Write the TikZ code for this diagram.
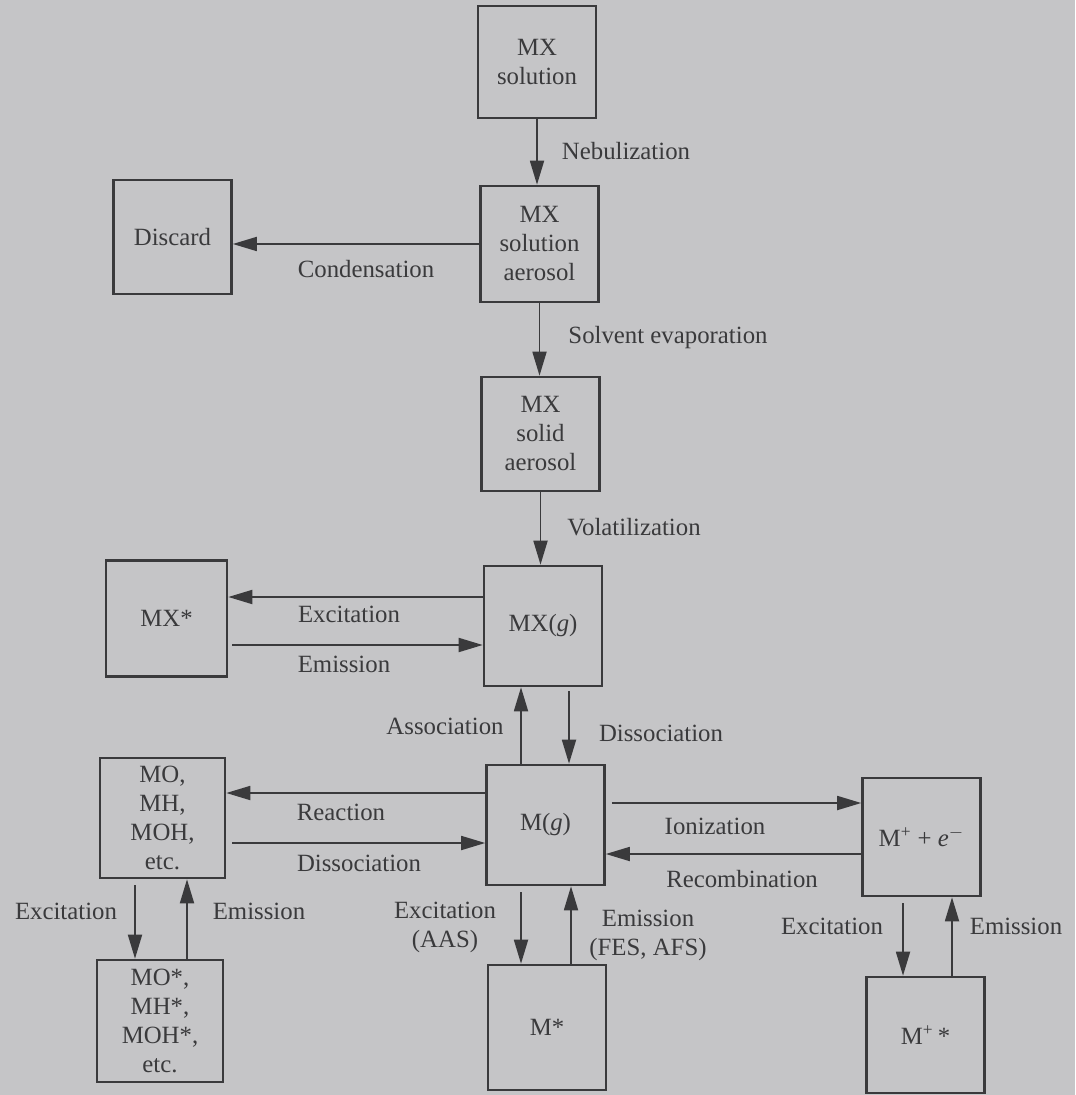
\documentclass[tikz,border=0pt]{standalone}
\usepackage{fontspec}
\setmainfont{Liberation Serif}
\usetikzlibrary{arrows.meta}
\definecolor{paper}{RGB}{197,197,199}
\definecolor{ink}{RGB}{58,58,60}

\begin{document}
\begin{tikzpicture}[x=0.5pt,y=-0.5pt,>={Triangle[length=12pt,width=7pt]},
    font=\fontsize{12.4}{14.5}\selectfont]
  \tikzstyle{box}=[draw=ink,line width=1.3pt,text=ink,align=center,minimum width=59pt,minimum height=58pt,inner sep=1pt]
  \tikzstyle{lbl}=[text=ink,align=center,inner sep=1pt]
  \tikzstyle{flow}=[draw=ink,line width=0.9pt,->]
  \fill[paper] (0,0) rectangle (1075,1095);
  % boxes
  \node[box,minimum height=56pt] (MX_sol) at (537,62) {MX\\solution};
  \node[box] (MX_aer) at (539.5,244) {MX\\solution\\aerosol};
  \node[box,minimum height=57pt] (Discard) at (172.5,237) {Discard};
  \node[box,minimum height=57pt] (MX_sld) at (540.5,434) {MX\\solid\\aerosol};
  \node[box,minimum width=60.5pt] (MX_st) at (166.5,618.5) {MX*};
  \node[box,minimum height=60pt] (MX_g) at (543,626) {MX(\textit{g})};
  \node[box,minimum width=62.5pt,minimum height=60pt] (MO) at (162.5,818) {MO,\\MH,\\MOH,\\etc.};
  \node[box,minimum height=60pt] (M_g) at (545.5,825) {M(\textit{g})};
  \node[box,minimum height=59pt] (M_pl) at (921.5,837) {M\textsuperscript{+} + \textit{e}\textsuperscript{$-$}};
  \node[box,minimum width=63pt,minimum height=61pt] (MO_st) at (160,1021) {MO*,\\MH*,\\MOH*,\\etc.};
  \node[box,minimum height=62.5pt] (M_st) at (547,1027.5) {M*};
  \node[box,minimum height=58pt] (M_plst) at (925.5,1035) {M\textsuperscript{+}\,*};
  % connectors
  \draw[flow] (MX_sol.south) -- (MX_sol.south |- MX_aer.north);
  \draw[flow] (MX_aer.west) -- (MX_aer.west -| Discard.east);
  \draw[flow] (MX_aer.south) -- (MX_aer.south |- MX_sld.north);
  \draw[flow] (MX_sld.south) -- (MX_sld.south |- MX_g.north);
  \draw[flow] ([yshift=14.5pt]MX_g.west) -- ([yshift=14.5pt]MX_g.west -| MX_st.east);
  \draw[flow,shorten <=2pt] ([yshift=-9.5pt]MX_g.west -| MX_st.east) -- ([yshift=-9.5pt]MX_g.west);
  \draw[flow] ([xshift=-12.25pt]M_g.north) -- ([xshift=-12.25pt]M_g.north |- MX_g.south);
  \draw[flow,shorten <=2pt] ([xshift=11.75pt]M_g.north |- MX_g.south) -- ([xshift=11.75pt]M_g.north);
  \draw[flow] ([yshift=16pt]M_g.west) -- ([yshift=16pt]M_g.west -| MO.east);
  \draw[flow,shorten <=3pt] ([yshift=-9pt]M_g.west -| MO.east) -- ([yshift=-9pt]M_g.west);
  \draw[flow,shorten <=3pt] ([yshift=11pt]M_g.east) -- ([yshift=11pt]M_g.east -| M_pl.west);
  \draw[flow] ([yshift=-14.5pt]M_g.east -| M_pl.west) -- ([yshift=-14.5pt]M_g.east);
  \draw[flow,shorten <=3pt] ([xshift=-13.75pt]MO.south) -- ([xshift=-13.75pt]MO.south |- MO_st.north);
  \draw[flow] ([xshift=12.25pt]MO.south |- MO_st.north) -- ([xshift=12.25pt]MO.south);
  \draw[flow,shorten <=3pt] ([xshift=-12.25pt]M_g.south) -- ([xshift=-12.25pt]M_g.south |- M_st.north);
  \draw[flow] ([xshift=12.75pt]M_g.south |- M_st.north) -- ([xshift=12.75pt]M_g.south);
  \draw[flow,shorten <=3pt] ([xshift=-9.25pt]M_pl.south) -- ([xshift=-9.25pt]M_pl.south |- M_plst.north);
  \draw[flow] ([xshift=15.25pt]M_pl.south |- M_plst.north) -- ([xshift=15.25pt]M_pl.south);
  % labels
  \node[lbl] (L_neb) at (626,151) {Nebulization};
  \node[lbl] (L_cond) at (366,269) {Condensation};
  \node[lbl] (L_evap) at (668,338) {Solvent evaporation};
  \node[lbl] (L_vol) at (634,527) {Volatilization};
  \node[lbl] (L_exc1) at (349,614) {Excitation};
  \node[lbl] (L_em1) at (344,664) {Emission};
  \node[lbl] (L_ass) at (445,726) {Association};
  \node[lbl] (L_dis1) at (661,733) {Dissociation};
  \node[lbl] (L_rea) at (341,812) {Reaction};
  \node[lbl] (L_dis2) at (359,863) {Dissociation};
  \node[lbl] (L_ion) at (715,826) {Ionization};
  \node[lbl] (L_rec) at (742,879) {Recombination};
  \node[lbl] (L_exc2) at (66,911) {Excitation};
  \node[lbl] (L_em2) at (259,911) {Emission};
  \node[lbl] (L_exc3) at (445,927) {Excitation\\(AAS)};
  \node[lbl] (L_em3) at (648,935) {Emission\\(FES, AFS)};
  \node[lbl] (L_exc4) at (832,926) {Excitation};
  \node[lbl] (L_em4) at (1016,926) {Emission};
\end{tikzpicture}
\end{document}
